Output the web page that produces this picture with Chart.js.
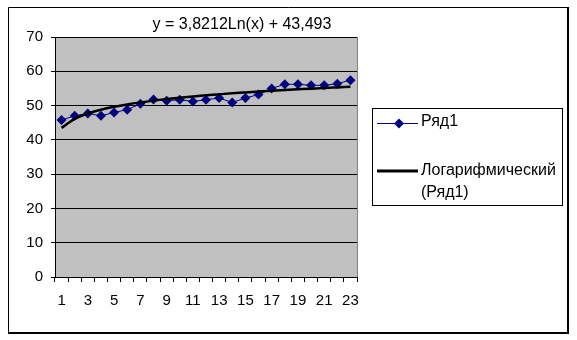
<!DOCTYPE html>
<html><head><meta charset="utf-8">
<script src="https://cdn.jsdelivr.net/npm/chart.js@4"></script>
<style>html,body{margin:0;padding:0;background:#fff}#wrap{width:577px;height:340px;position:relative}</style>
</head><body><div id="wrap"><canvas id="c" width="577" height="340"></canvas></div>
<script>
const categories = ['1','2','3','4','5','6','7','8','9','10','11','12','13','14','15','16','17','18','19','20','21','22','23'];
const series1 = [45.8, 47.0, 47.7, 47.0, 48.0, 48.8, 50.5, 51.8, 51.4, 51.7, 51.2, 51.7, 52.2, 50.9, 52.2, 53.2, 55.0, 56.2, 56.2, 55.9, 55.9, 56.4, 57.4];
const trend = [43.49, 46.14, 47.69, 48.79, 49.64, 50.34, 50.93, 51.44, 51.89, 52.29, 52.66, 52.99, 53.29, 53.58, 53.84, 54.09, 54.32, 54.54, 54.74, 54.94, 55.13, 55.30, 55.47];
const seriesName = 'Ряд1';
const trendName = ['Логарифмический', '(Ряд1)'];
const equation = 'y = 3,8212Ln(x) + 43,493';
const yTicks = [0, 10, 20, 30, 40, 50, 60, 70];

const FONT = '"Liberation Sans", Arial, sans-serif';
const NAVY = '#000080';

const deco = {
  id: 'deco',
  beforeDraw(chart) {
    const ctx = chart.ctx, a = chart.chartArea;
    ctx.save();
    ctx.fillStyle = '#fff';
    ctx.fillRect(0, 0, chart.width, chart.height);
    // outer frame
    ctx.strokeStyle = '#000';
    ctx.lineWidth = 1;
    ctx.beginPath();
    ctx.moveTo(8.5, 333); ctx.lineTo(8.5, 7.5); ctx.lineTo(568, 7.5);
    ctx.stroke();
    ctx.lineWidth = 2;
    ctx.beginPath();
    ctx.moveTo(568, 7); ctx.lineTo(568, 333); ctx.lineTo(8, 333);
    ctx.stroke();
    // plot area
    ctx.fillStyle = '#C0C0C0';
    ctx.fillRect(a.left, a.top, a.right - a.left, a.bottom - a.top);
    ctx.lineWidth = 1;
    ctx.strokeStyle = '#808080';
    ctx.strokeRect(a.left + 0.5, a.top + 0.5, a.right - a.left, a.bottom - a.top);
    ctx.restore();
  },
  afterDraw(chart) {
    const ctx = chart.ctx;
    ctx.save();
    ctx.fillStyle = '#000';
    ctx.font = '16px ' + FONT;
    ctx.textAlign = 'center';
    ctx.textBaseline = 'middle';
    ctx.fillText(equation, 242, 25);
    // legend box
    ctx.strokeStyle = '#000';
    ctx.lineWidth = 1;
    ctx.strokeRect(372.5, 108.5, 190, 97);
    // entry 1
    ctx.strokeStyle = NAVY;
    ctx.lineWidth = 1;
    ctx.beginPath(); ctx.moveTo(377, 123.5); ctx.lineTo(418, 123.5); ctx.stroke();
    ctx.fillStyle = NAVY;
    ctx.beginPath();
    ctx.moveTo(399, 118.5); ctx.lineTo(404, 123.5); ctx.lineTo(399, 128.5); ctx.lineTo(394, 123.5);
    ctx.closePath(); ctx.fill();
    // entry 2
    ctx.strokeStyle = '#000';
    ctx.lineWidth = 3;
    ctx.beginPath(); ctx.moveTo(377, 171); ctx.lineTo(418, 171); ctx.stroke();
    ctx.fillStyle = '#000';
    ctx.font = '16px ' + FONT;
    ctx.textAlign = 'left';
    ctx.fillText(seriesName, 421, 122);
    ctx.fillText(trendName[0], 421, 171);
    ctx.fillText(trendName[1], 421, 193);
    ctx.restore();
  }
};

new Chart(document.getElementById('c'), {
  type: 'line',
  data: {
    labels: categories,
    datasets: [
      {
        label: seriesName,
        data: series1,
        borderColor: NAVY,
        backgroundColor: NAVY,
        borderWidth: 1,
        pointStyle: 'rectRot',
        pointRadius: 5,
        pointHoverRadius: 5,
        pointBorderWidth: 0,
        tension: 0,
        order: 2
      },
      {
        label: trendName.join(' '),
        data: trend,
        borderColor: '#000',
        borderWidth: 2.5,
        pointRadius: 0,
        tension: 0.4,
        cubicInterpolationMode: 'monotone',
        order: 1
      }
    ]
  },
  options: {
    responsive: false,
    animation: false,
    devicePixelRatio: 1,
    layout: { padding: { left: 0, right: 220, top: 37, bottom: 0 } },
    plugins: { legend: { display: false }, title: { display: false }, tooltip: { enabled: false } },
    scales: {
      x: {
        type: 'category',
        offset: true,
        grid: { display: true, offset: true, drawOnChartArea: false, drawTicks: true, tickLength: 5, color: '#000', tickColor: '#000' },
        border: { display: true, color: '#000', width: 1 },
        ticks: {
          autoSkip: false, maxRotation: 0, padding: 10, color: '#000',
          font: { family: FONT, size: 15 },
          callback: function (v, i) { return i % 2 === 0 ? this.getLabelForValue(v) : ''; }
        },
        afterFit(s) { s.height = 63; }
      },
      y: {
        min: 0, max: 70,
        afterBuildTicks(s) { s.ticks = yTicks.map(v => ({ value: v })); },
        grid: { color: '#000', lineWidth: 1, drawTicks: true, tickLength: 4, tickColor: '#000' },
        border: { display: true, color: '#000', width: 1 },
        ticks: { padding: 8, color: '#000', font: { family: FONT, size: 15 } },
        afterFit(s) { s.width = 55; }
      }
    }
  },
  plugins: [deco]
});
</script>
</body></html>
